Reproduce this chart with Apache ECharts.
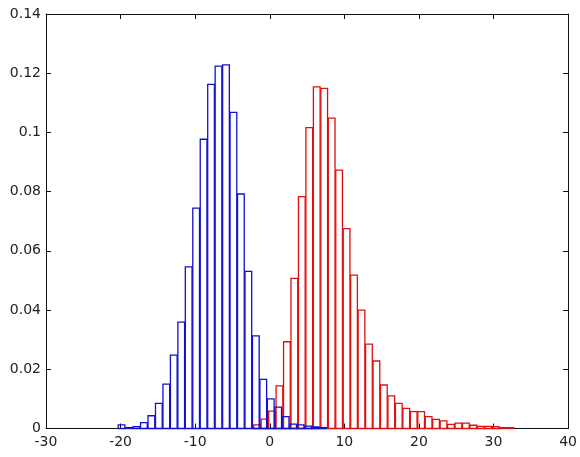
<!DOCTYPE html>
<html>
<head>
<meta charset="utf-8">
<script src="https://cdn.jsdelivr.net/npm/echarts@6/dist/echarts.min.js"></script>
<style>
  html, body { margin: 0; padding: 0; background: #fff; }
  #chart { width: 580px; height: 457px; }
</style>
</head>
<body>
<div id="chart"></div>
<script>
// bin centres and normalised counts
const binWidth = 1;
const blueCenters = [-19.87, -18.87, -17.87, -16.87, -15.87, -14.87, -13.87, -12.87, -11.87, -10.87,
  -9.87, -8.87, -7.87, -6.87, -5.87, -4.87, -3.87, -2.87, -1.87, -0.87,
  0.13, 1.13, 2.13, 3.13, 4.13, 5.13, 6.13, 7.13];
const blueValues = [0.0012, 0.0003, 0.0006, 0.002, 0.0043, 0.0085, 0.015, 0.0248, 0.0359, 0.0546,
  0.0744, 0.0977, 0.1162, 0.1224, 0.1228, 0.1068, 0.0792, 0.0531, 0.0313, 0.0166,
  0.01, 0.0072, 0.004, 0.0015, 0.0012, 0.0008, 0.0005, 0.0003];

const redCenters = [-1.7, -0.7, 0.3, 1.3, 2.3, 3.3, 4.3, 5.3, 6.3, 7.3,
  8.3, 9.3, 10.3, 11.3, 12.3, 13.3, 14.3, 15.3, 16.3, 17.3,
  18.3, 19.3, 20.3, 21.3, 22.3, 23.3, 24.3, 25.3, 26.3, 27.3,
  28.3, 29.3, 30.3, 31.3, 32.3];
const redValues = [0.0012, 0.0032, 0.0059, 0.0144, 0.0293, 0.0507, 0.0783, 0.1016, 0.1154, 0.1149,
  0.1048, 0.0873, 0.0675, 0.0518, 0.04, 0.0285, 0.0228, 0.0147, 0.011, 0.0085,
  0.0068, 0.0057, 0.0057, 0.004, 0.0031, 0.0026, 0.0014, 0.0018, 0.0018, 0.0011,
  0.0007, 0.0007, 0.0006, 0.0003, 0.0003];

const xTicks = { min: -30, max: 40, interval: 10 };
const yTicks = { min: 0, max: 0.14, interval: 0.02 };

const labelFont = { color: '#222', fontSize: 14, fontFamily: 'DejaVu Sans, sans-serif' };

function histBars(color) {
  // outlined rectangle per bin, positioned by the axis scales
  return function (params, api) {
    const c = api.value(0);
    const half = binWidth * 0.45;
    const topLeft = api.coord([c - half, api.value(1)]);
    const bottomRight = api.coord([c + half, 0]);
    return {
      type: 'rect',
      shape: {
        x: topLeft[0],
        y: topLeft[1],
        width: bottomRight[0] - topLeft[0],
        height: bottomRight[1] - topLeft[1],
      },
      style: { fill: 'none', stroke: color, lineWidth: 1.3 },
    };
  };
}

const chart = echarts.init(document.getElementById('chart'), null, { renderer: 'canvas' });

const axisLine = { show: true, onZero: false, lineStyle: { color: '#111', width: 1 } };
const tick = { show: true, inside: true, length: 5, lineStyle: { color: '#111' } };

chart.setOption({
  animation: false,
  backgroundColor: '#fff',
  grid: { left: 46, right: 7, top: 14, bottom: 28.5, containLabel: false },
  xAxis: [
    {
      type: 'value', ...xTicks, position: 'bottom',
      axisLine, axisTick: tick, splitLine: { show: false },
      axisLabel: { ...labelFont, margin: 7 },
    },
    {
      type: 'value', ...xTicks, position: 'top',
      axisLine, axisTick: tick, splitLine: { show: false },
      axisLabel: { show: false },
    },
  ],
  yAxis: [
    {
      type: 'value', ...yTicks, position: 'left',
      axisLine, axisTick: tick, splitLine: { show: false },
      axisLabel: { ...labelFont, margin: 5 },
    },
    {
      type: 'value', ...yTicks, position: 'right',
      axisLine, axisTick: tick, splitLine: { show: false },
      axisLabel: { show: false },
    },
  ],
  series: [
    {
      name: 'red',
      type: 'custom',
      renderItem: histBars('#e01010'),
      data: redCenters.map((c, i) => [c, redValues[i]]),
      encode: { x: 0, y: 1 },
      z: 2,
    },
    {
      name: 'blue',
      type: 'custom',
      renderItem: histBars('#1010d0'),
      data: blueCenters.map((c, i) => [c, blueValues[i]]),
      encode: { x: 0, y: 1 },
      z: 3,
    },
  ],
});
</script>
</body>
</html>
